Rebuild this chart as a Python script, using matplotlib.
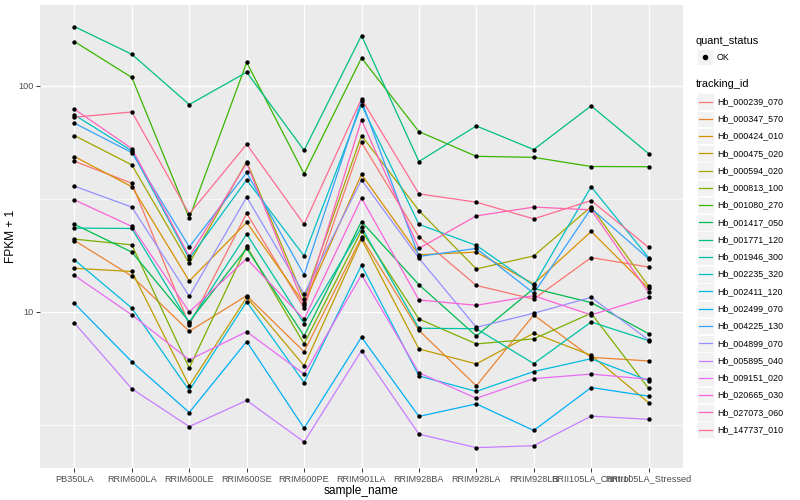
import matplotlib
matplotlib.use("Agg")
import matplotlib.pyplot as plt
from matplotlib.lines import Line2D
from matplotlib.patches import Rectangle
from matplotlib.ticker import NullLocator
import numpy as np

plt.rcParams["font.family"] = ["Liberation Sans", "DejaVu Sans"]

# data (FPKM + 1)
samples = ["PB350LA", "RRIM600LA", "RRIM600LE", "RRIM600SE", "RRIM600PE", "RRIM901LA",
           "RRIM928BA", "RRIM928LA", "RRIM928LB", "RRII105LA_Control", "RRII105LA_Stressed"]

tracking_ids = ["Hb_000239_070", "Hb_000347_570", "Hb_000424_010", "Hb_000475_020",
                "Hb_000594_020", "Hb_000813_100", "Hb_001080_270", "Hb_001417_050",
                "Hb_001771_120", "Hb_001946_300", "Hb_002235_320", "Hb_002411_120",
                "Hb_002499_070", "Hb_004225_130", "Hb_004899_070", "Hb_005895_040",
                "Hb_009151_020", "Hb_020665_030", "Hb_027073_060", "Hb_147737_010"]

hb_000239_070 = [46.4, 37.1, 8.76, 27.3, 10.4, 56.2, 21.5, 13.1, 11.4, 17.4, 15.8]
hb_000347_570 = [20.7, 14.4, 8.21, 11.8, 6.67, 21.4, 8.29, 4.71, 9.7, 6.30, 6.07]
hb_000424_010 = [48.7, 35.8, 13.7, 24.9, 10.9, 40.6, 17.9, 18.4, 13.3, 22.7, 12.7]
hb_000475_020 = [15.6, 15.1, 4.72, 11.6, 5.78, 21.0, 6.86, 5.89, 8.05, 6.43, 3.97]
hb_000594_020 = [60.3, 44.7, 16.4, 46.3, 11.4, 60.3, 28.1, 15.5, 17.7, 29.2, 13.0]
hb_000813_100 = [21.0, 19.8, 5.65, 19.5, 7.22, 22.9, 9.31, 7.22, 7.60, 9.87, 4.59]
hb_001080_270 = [157, 109, 26.0, 127, 40.8, 133, 62.8, 48.8, 48.3, 44.0, 43.9]
hb_001417_050 = [24.4, 18.4, 9.06, 19.1, 7.83, 25.1, 13.2, 7.83, 12.7, 11.0, 8.02]
hb_001771_120 = [183, 138, 82.7, 115, 51.9, 167, 46.3, 66.5, 52.3, 81.6, 50.2]
hb_001946_300 = [23.5, 23.4, 8.94, 22.1, 8.88, 23.7, 8.47, 8.43, 5.91, 9.03, 7.47]
hb_002235_320 = [74.4, 51.6, 17.2, 38.4, 17.7, 82.5, 24.4, 19.7, 13.1, 35.8, 17.4]
hb_002411_120 = [17.0, 10.4, 4.49, 11.1, 4.87, 16.1, 5.21, 4.45, 5.45, 6.21, 4.97]
hb_002499_070 = [10.9, 6.02, 3.59, 7.40, 3.06, 7.73, 3.45, 3.92, 2.99, 4.63, 4.24]
hb_004225_130 = [68.4, 50.7, 19.4, 41.4, 14.6, 86.1, 17.6, 19.1, 12.1, 28.7, 17.2]
hb_004899_070 = [36.0, 29.1, 11.75, 32.2, 12.0, 38.4, 17.3, 8.55, 9.87, 11.6, 7.52]
hb_005895_040 = [8.94, 4.57, 3.11, 4.06, 2.66, 6.74, 2.88, 2.51, 2.56, 3.46, 3.35]
hb_009151_020 = [14.5, 9.7, 6.14, 8.18, 5.31, 14.6, 5.38, 4.15, 5.07, 5.31, 5.04]
hb_020665_030 = [31.3, 23.9, 10.0, 17.2, 9.28, 31.9, 11.3, 10.7, 11.8, 9.7, 11.6]
hb_027073_060 = [78.9, 52.8, 17.6, 45.5, 10.7, 70.7, 19.1, 26.6, 29.1, 28.3, 12.2]
hb_147737_010 = [72.7, 76.7, 27.1, 55.2, 24.4, 87.6, 33.3, 30.6, 25.8, 31.1, 19.3]

series = [hb_000239_070, hb_000347_570, hb_000424_010, hb_000475_020, hb_000594_020,
          hb_000813_100, hb_001080_270, hb_001417_050, hb_001771_120, hb_001946_300,
          hb_002235_320, hb_002411_120, hb_002499_070, hb_004225_130, hb_004899_070,
          hb_005895_040, hb_009151_020, hb_020665_030, hb_027073_060, hb_147737_010]

# ggplot default hue palette for 20 levels
colors = ["#F8766D", "#EA8331", "#D89000", "#C09B00", "#A3A500", "#7CAE00", "#39B600",
          "#00BB4E", "#00BF7D", "#00C1A3", "#00BFC4", "#00BAE0", "#00B0F6", "#35A2FF",
          "#9590FF", "#C77CFF", "#E76BF3", "#FA62DB", "#FF62BC", "#FF6C91"]

W, H = 800, 500
fig = plt.figure(figsize=(8, 5), dpi=100)
fig.patch.set_facecolor("white")
ax = fig.add_axes([40 / W, 1 - 468 / H, 643 / W, 463 / H])
ax.set_facecolor("#EBEBEB")

x = np.arange(len(samples))
ax.set_yscale("log")
ax.set_ylim(2.04, 228)
ax.set_xlim(-0.6, len(samples) - 0.4)

# grid like theme_grey
for v in [10, 100]:
    ax.axhline(v, color="white", lw=1.0, zorder=0)
for v in [10 ** 0.5, 10 ** 1.5]:
    ax.axhline(v, color="white", lw=0.5, zorder=0)
for xi in x:
    ax.axvline(xi, color="white", lw=1.0, zorder=0)

for vals, c in zip(series, colors):
    ax.plot(x, vals, color=c, lw=0.9, zorder=2)
for vals in series:
    ax.scatter(x, vals, s=10, color="black", marker="o", linewidths=0, zorder=3)

ax.set_yticks([10, 100])
ax.set_yticklabels(["10", "100"])
ax.yaxis.set_minor_locator(NullLocator())
ax.set_xticks(x)
ax.set_xticklabels(samples)
ax.tick_params(axis="both", length=2.75, width=0.7, color="#333333",
               labelsize=6.6, labelcolor="#4D4D4D", pad=2)
for s in ax.spines.values():
    s.set_visible(False)

ax.set_xlabel("sample_name", fontsize=8.6, labelpad=1)
ax.set_ylabel("FPKM + 1", fontsize=8.6, labelpad=1)


def fx(px):
    return px / W


def fy(py):
    return 1 - py / H


# legend: quant_status
fig.text(fx(696), fy(41), "quant_status", fontsize=7.9, va="center", ha="left")
fig.patches.append(Rectangle((fx(697), fy(65)), 16 / W, 16 / H, transform=fig.transFigure,
                             facecolor="#F2F2F2", edgecolor="white", lw=0.5))
fig.lines.append(Line2D([fx(705)], [fy(57)], transform=fig.transFigure, marker="o",
                        markersize=3, color="black", linestyle="none"))
fig.text(fx(717), fy(57), "OK", fontsize=6.4, va="center", ha="left")

# legend: tracking_id
fig.text(fx(696), fy(84), "tracking_id", fontsize=7.9, va="center", ha="left")
step = 17.27
for i, (name, c) in enumerate(zip(tracking_ids, colors)):
    cy = 101.5 + i * step
    fig.patches.append(Rectangle((fx(697), fy(cy + 8.3)), 16.5 / W, 16.5 / H,
                                 transform=fig.transFigure, facecolor="#F2F2F2",
                                 edgecolor="white", lw=0.5))
    fig.lines.append(Line2D([fx(698.5), fx(712)], [fy(cy), fy(cy)], transform=fig.transFigure,
                            color=c, lw=0.9))
    fig.text(fx(717), fy(cy), name, fontsize=6.4, va="center", ha="left")

fig.savefig("out.png", dpi=100)
